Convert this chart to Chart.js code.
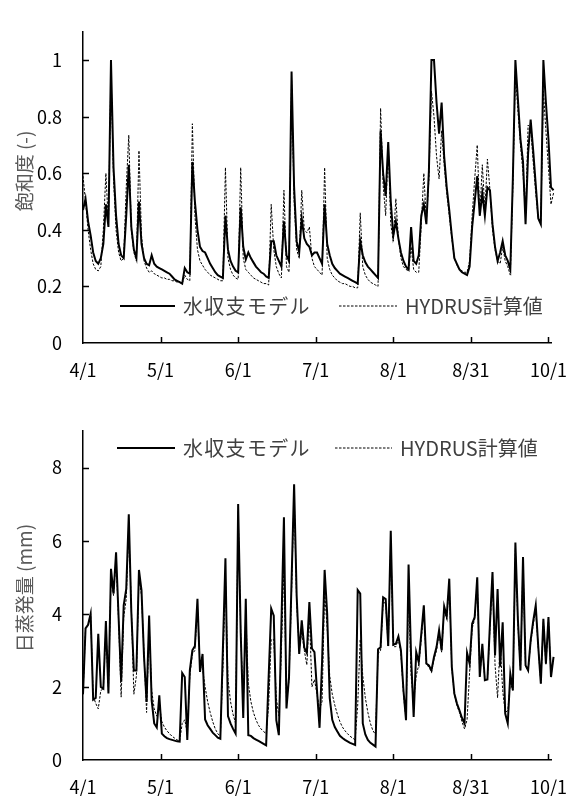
<!DOCTYPE html>
<html lang="ja">
<head>
<meta charset="utf-8">
<title>飽和度・日蒸発量</title>
<script src="https://cdn.jsdelivr.net/npm/chart.js@4.4.0/dist/chart.umd.min.js"></script>
<style>
    html, body { margin: 0; padding: 0; background: #fff; }
    #wrap { position: relative; width: 569px; height: 796px; overflow: hidden; font-family: 'Noto Sans CJK JP', sans-serif; }
    canvas { position: absolute; left: 0; }
    #chartSat { top: 0; }
    #chartEt { top: 396px; }
    .legend-item { position: absolute; display: flex; align-items: center; height: 20px; font-size: 20px; line-height: 20px; color: #404040; white-space: nowrap; }
    .legend-item svg { margin-right: 8px; }
    .legend-item .jp { letter-spacing: 1.3px; }
    .y-title { position: absolute; transform: translate(-50%, -50%) rotate(-90deg); white-space: nowrap; font-size: 19px; line-height: 1; color: #595959; }
</style>
</head>
<body>
<div id="wrap">
    <canvas id="chartSat" width="569" height="396"></canvas>
    <canvas id="chartEt" width="569" height="417"></canvas>

    <div class="y-title" style="left:23px; top:171px;">飽和度 (-)</div>
    <div class="y-title" style="left:23px; top:588px;">日蒸発量 (mm)</div>

    <div class="legend-item" style="left:120px; top:296px;">
        <svg width="55" height="4"><line x1="0" y1="2" x2="55" y2="2" stroke="#000" stroke-width="2"/></svg><span class="jp">水収支モデル</span>
    </div>
    <div class="legend-item" style="left:339px; top:296px;">
        <svg width="58" height="4"><line x1="0" y1="2" x2="58" y2="2" stroke="#000" stroke-width="1" stroke-dasharray="2.5 1.5"/></svg>HYDRUS計算値
    </div>
    <div class="legend-item" style="left:117px; top:438px;">
        <svg width="58" height="4"><line x1="0" y1="2" x2="58" y2="2" stroke="#000" stroke-width="2"/></svg><span class="jp">水収支モデル</span>
    </div>
    <div class="legend-item" style="left:335px; top:438px;">
        <svg width="57" height="4"><line x1="0" y1="2" x2="57" y2="2" stroke="#000" stroke-width="1" stroke-dasharray="2.5 1.5"/></svg>HYDRUS計算値
    </div>
</div>

<script>
// Ejes: días desde 4/1, marcas cada 30.5 días
const xTickDays = [0, 30.5, 61, 91.5, 122, 152.5, 183];
const xTickLabels = ['4/1', '5/1', '6/1', '7/1', '8/1', '8/31', '10/1'];
const satTicks = [0, 0.2, 0.4, 0.6, 0.8, 1];
const etTicks = [0, 2, 4, 6, 8];

// 飽和度 (-), un valor por día
const satModel = [
    0.47, 0.51, 0.43, 0.38, 0.32, 0.29, 0.28, 0.30, 0.35, 0.49,
    0.41, 1.00, 0.62, 0.45, 0.35, 0.31, 0.30, 0.45, 0.63, 0.41,
    0.33, 0.30, 0.50, 0.35, 0.30, 0.28, 0.275, 0.31, 0.28, 0.27,
    0.265, 0.26, 0.255, 0.25, 0.245, 0.235, 0.225, 0.22, 0.215, 0.21,
    0.265, 0.25, 0.245, 0.64, 0.50, 0.40, 0.34, 0.325, 0.32, 0.30,
    0.28, 0.265, 0.25, 0.24, 0.235, 0.23, 0.45, 0.33, 0.29, 0.27,
    0.255, 0.25, 0.48, 0.34, 0.295, 0.32, 0.30, 0.285, 0.27, 0.26,
    0.25, 0.245, 0.235, 0.23, 0.36, 0.36, 0.31, 0.29, 0.27, 0.43,
    0.31, 0.29, 0.96, 0.55, 0.36, 0.32, 0.44, 0.37, 0.35, 0.34,
    0.31, 0.32, 0.32, 0.30, 0.28, 0.49, 0.35, 0.31, 0.28, 0.265,
    0.255, 0.245, 0.24, 0.235, 0.23, 0.225, 0.22, 0.215, 0.21, 0.36,
    0.31, 0.285, 0.27, 0.26, 0.25, 0.24, 0.23, 0.75, 0.60, 0.52,
    0.71, 0.50, 0.38, 0.43, 0.37, 0.32, 0.29, 0.27, 0.26, 0.41,
    0.29, 0.28, 0.31, 0.45, 0.49, 0.42, 0.61, 1.00, 1.00, 0.85,
    0.74, 0.85, 0.66, 0.55, 0.47, 0.38, 0.30, 0.28, 0.26, 0.25,
    0.245, 0.24, 0.27, 0.41, 0.50, 0.59, 0.45, 0.53, 0.45, 0.55,
    0.54, 0.42, 0.34, 0.29, 0.32, 0.36, 0.31, 0.29, 0.26, 0.58,
    1.00, 0.86, 0.72, 0.64, 0.42, 0.67, 0.79, 0.68, 0.56, 0.44,
    0.42, 1.00, 0.85, 0.72, 0.55, 0.54
];
const satHydrus = [
    0.59, 0.50, 0.40, 0.33, 0.28, 0.26, 0.255, 0.27, 0.40, 0.60,
    0.42, 0.97, 0.58, 0.40, 0.32, 0.29, 0.30, 0.55, 0.735, 0.40,
    0.32, 0.29, 0.68, 0.38, 0.29, 0.265, 0.25, 0.255, 0.245, 0.24,
    0.235, 0.23, 0.23, 0.225, 0.225, 0.22, 0.22, 0.215, 0.215, 0.21,
    0.24, 0.225, 0.22, 0.775, 0.45, 0.33, 0.29, 0.275, 0.26, 0.25,
    0.24, 0.235, 0.23, 0.225, 0.22, 0.22, 0.62, 0.30, 0.26, 0.24,
    0.23, 0.225, 0.62, 0.30, 0.26, 0.25, 0.24, 0.23, 0.225, 0.22,
    0.215, 0.21, 0.21, 0.205, 0.49, 0.33, 0.27, 0.245, 0.23, 0.54,
    0.27, 0.25, 0.93, 0.50, 0.33, 0.30, 0.54, 0.40, 0.39, 0.41,
    0.30, 0.27, 0.26, 0.25, 0.24, 0.62, 0.30, 0.26, 0.24, 0.23,
    0.22, 0.215, 0.21, 0.21, 0.205, 0.20, 0.20, 0.195, 0.195, 0.46,
    0.27, 0.24, 0.225, 0.215, 0.21, 0.205, 0.20, 0.83, 0.56, 0.45,
    0.70, 0.42, 0.36, 0.51, 0.37, 0.30, 0.27, 0.26, 0.255, 0.34,
    0.26, 0.25, 0.25, 0.42, 0.60, 0.43, 0.58, 0.89, 0.80, 0.66,
    0.58, 0.75, 0.63, 0.53, 0.45, 0.37, 0.30, 0.275, 0.26, 0.255,
    0.25, 0.25, 0.29, 0.45, 0.58, 0.70, 0.45, 0.63, 0.47, 0.65,
    0.54, 0.40, 0.33, 0.29, 0.28, 0.34, 0.29, 0.27, 0.24, 0.55,
    0.96, 0.82, 0.70, 0.60, 0.45, 0.77, 0.76, 0.64, 0.53, 0.44,
    0.43, 0.89, 0.75, 0.62, 0.49, 0.53
];

// 日蒸発量 (mm), un valor por día
const etModel = [
    1.8, 3.6, 3.7, 4.0, 1.65, 1.7, 3.45, 2.0, 1.95, 3.8,
    1.82, 5.23, 4.55, 5.68, 3.9, 2.14, 4.23, 4.68, 6.72, 4.04,
    2.45, 2.45, 5.2, 4.64, 2.82, 1.59, 3.95, 1.63, 1.0, 0.89,
    1.77, 0.72, 0.65, 0.6, 0.57, 0.55, 0.53, 0.51, 0.5, 2.38,
    2.27, 0.55, 2.45, 3.0, 3.12, 4.41, 2.41, 2.9, 1.11, 0.95,
    0.85, 0.75, 0.68, 0.61, 0.58, 3.05, 5.52, 1.2, 1.0, 0.85,
    0.72, 7.0, 3.5, 1.15, 4.41, 0.68, 0.66, 0.6, 0.56, 0.52,
    0.48, 0.44, 0.4, 2.3, 4.14, 3.95, 1.09, 0.68, 3.7, 6.64,
    1.41, 2.27, 4.9, 7.54, 4.5, 2.9, 3.82, 3.07, 2.93, 4.32,
    3.05, 2.95, 1.9, 0.88, 2.7, 5.2, 4.0, 1.7, 1.1, 0.9,
    0.78, 0.66, 0.6, 0.55, 0.51, 0.47, 0.44, 0.41, 4.65, 4.55,
    1.0, 0.7, 0.55, 0.47, 0.42, 0.37, 3.03, 3.08, 4.45, 4.4,
    3.12, 6.27, 3.15, 3.18, 3.38, 3.0, 1.9, 1.09, 5.35, 2.82,
    1.18, 2.95, 2.68, 3.45, 4.23, 2.64, 2.59, 2.45, 2.82, 3.09,
    3.55, 3.0, 4.2, 3.93, 4.96, 2.55, 1.82, 1.55, 1.36, 1.15,
    1.0, 2.93, 2.64, 3.73, 3.91, 5.0, 2.27, 3.18, 2.18, 2.2,
    3.73, 5.14, 2.86, 4.68, 2.55, 3.77, 1.27, 1.0, 2.36, 1.91,
    5.95, 3.82, 2.45, 5.55, 2.59, 2.45, 3.27, 3.8, 4.23, 3.09,
    2.09, 3.86, 2.64, 3.91, 2.27, 2.82
];
const etHydrus = [
    1.8, 3.6, 3.7, 4.0, 1.75, 1.55, 1.4, 1.9, 1.95, 3.6,
    1.9, 5.0, 4.5, 5.5, 3.8, 1.72, 3.9, 4.4, 6.35, 4.2,
    1.8, 2.3, 5.0, 4.5, 2.9, 1.3, 3.7, 1.9, 1.4, 1.2,
    1.5, 1.05, 0.9, 0.8, 0.72, 0.65, 0.6, 0.55, 0.52, 1.0,
    1.1, 0.75, 2.3, 2.9, 3.0, 4.2, 2.6, 2.5, 2.0, 1.6,
    1.3, 1.05, 0.85, 0.72, 0.65, 2.5, 5.0, 2.2, 1.6, 1.25,
    1.0, 6.8, 3.5, 1.5, 4.0, 2.1, 1.6, 1.3, 1.1, 0.95,
    0.85, 0.78, 0.72, 1.5, 3.3, 3.3, 1.7, 1.2, 3.0, 5.4,
    1.6, 2.2, 4.6, 7.35, 4.3, 3.0, 3.5, 3.0, 2.6, 4.0,
    2.0, 2.2, 1.8, 1.4, 1.6, 4.6, 3.6, 2.3, 1.8, 1.5,
    1.25, 1.05, 0.9, 0.8, 0.72, 0.65, 0.6, 0.55, 1.5, 3.3,
    2.3, 1.7, 1.3, 1.0, 0.8, 0.7, 2.9, 3.0, 4.3, 4.3,
    3.1, 6.0, 3.1, 3.1, 3.3, 2.9, 1.8, 1.1, 4.6, 2.3,
    1.6, 2.3, 2.6, 3.3, 4.1, 2.6, 2.55, 2.4, 2.75, 3.0,
    3.45, 2.95, 4.1, 3.85, 4.8, 2.5, 1.8, 1.5, 1.3, 1.05,
    0.85, 1.1, 2.4, 3.6, 3.85, 4.9, 2.3, 3.1, 2.2, 2.2,
    3.6, 5.0, 2.6, 1.7, 3.2, 1.9, 1.3, 1.35, 2.1, 1.9,
    5.8, 3.7, 2.45, 5.4, 2.55, 2.45, 3.2, 3.7, 4.1, 3.05,
    2.1, 3.8, 2.6, 3.85, 2.3, 2.8
];

Chart.defaults.font.family = "'Noto Sans CJK JP', sans-serif";

// Marcas cortas hacia dentro del área del gráfico
const innerTicks = {
    id: 'innerTicks',
    afterDraw(chart) {
        const { ctx, chartArea, scales: { x, y } } = chart;
        ctx.save();
        ctx.strokeStyle = '#000';
        ctx.lineWidth = 1.5;
        ctx.beginPath();
        x.ticks.forEach(t => {
            if (t.value === 0) return;
            const px = Math.round(x.getPixelForValue(t.value)) + 0.5;
            ctx.moveTo(px, chartArea.bottom);
            ctx.lineTo(px, chartArea.bottom - 6);
        });
        y.ticks.forEach(t => {
            if (t.value === 0) return;
            const py = Math.round(y.getPixelForValue(t.value)) + 0.5;
            ctx.moveTo(chartArea.left, py);
            ctx.lineTo(chartArea.left + 6, py);
        });
        ctx.stroke();
        ctx.restore();
    }
};

function toPoints(values) {
    return values.map((v, i) => ({ x: i, y: v }));
}

function crearGrafico(canvasId, solid, dashed, yMax, yTicks, padTop) {
    return new Chart(document.getElementById(canvasId), {
        type: 'line',
        data: {
            datasets: [
                {
                    label: 'HYDRUS計算値',
                    data: toPoints(dashed),
                    borderColor: '#000',
                    borderWidth: 1,
                    borderDash: [2.5, 1.5],
                    pointRadius: 0,
                    tension: 0,
                    clip: 10
                },
                {
                    label: '水収支モデル',
                    data: toPoints(solid),
                    borderColor: '#000',
                    borderWidth: 2,
                    pointRadius: 0,
                    tension: 0,
                    clip: 10
                }
            ]
        },
        options: {
            responsive: false,
            animation: false,
            devicePixelRatio: 1,
            layout: { padding: { top: padTop, right: 18, left: 0, bottom: 0 } },
            plugins: {
                legend: { display: false },
                tooltip: { enabled: false }
            },
            scales: {
                x: {
                    type: 'linear',
                    bounds: 'data',
                    // el eje llega a 184 días; los datos siguen un poco más
                    afterDataLimits: scale => { scale.min = 0; scale.max = 184; },
                    afterBuildTicks: scale => { scale.ticks = xTickDays.map(v => ({ value: v })); },
                    afterFit: scale => {
                        scale.height = 53;
                        scale.paddingLeft = 0;
                        scale.paddingRight = 0;
                    },
                    grid: { display: false, drawTicks: false },
                    border: { display: true, color: '#000', width: 1.5 },
                    ticks: {
                        autoSkip: false,
                        maxRotation: 0,
                        padding: 16,
                        color: '#000',
                        font: { size: 18 },
                        callback: (value, index) => xTickLabels[index]
                    }
                },
                y: {
                    min: 0,
                    max: yMax,
                    afterBuildTicks: scale => { scale.ticks = yTicks.map(v => ({ value: v })); },
                    afterFit: scale => { scale.width = 83; },
                    grid: { display: false, drawTicks: false },
                    border: { display: true, color: '#000', width: 1.5 },
                    ticks: {
                        autoSkip: false,
                        padding: 21,
                        color: '#000',
                        font: { size: 18 },
                        callback: value => String(value)
                    }
                }
            }
        },
        plugins: [innerTicks]
    });
}

crearGrafico('chartSat', satModel, satHydrus, 1.1, satTicks, 14);
crearGrafico('chartEt', etModel, etHydrus, 9, etTicks, 35);
</script>
</body>
</html>
